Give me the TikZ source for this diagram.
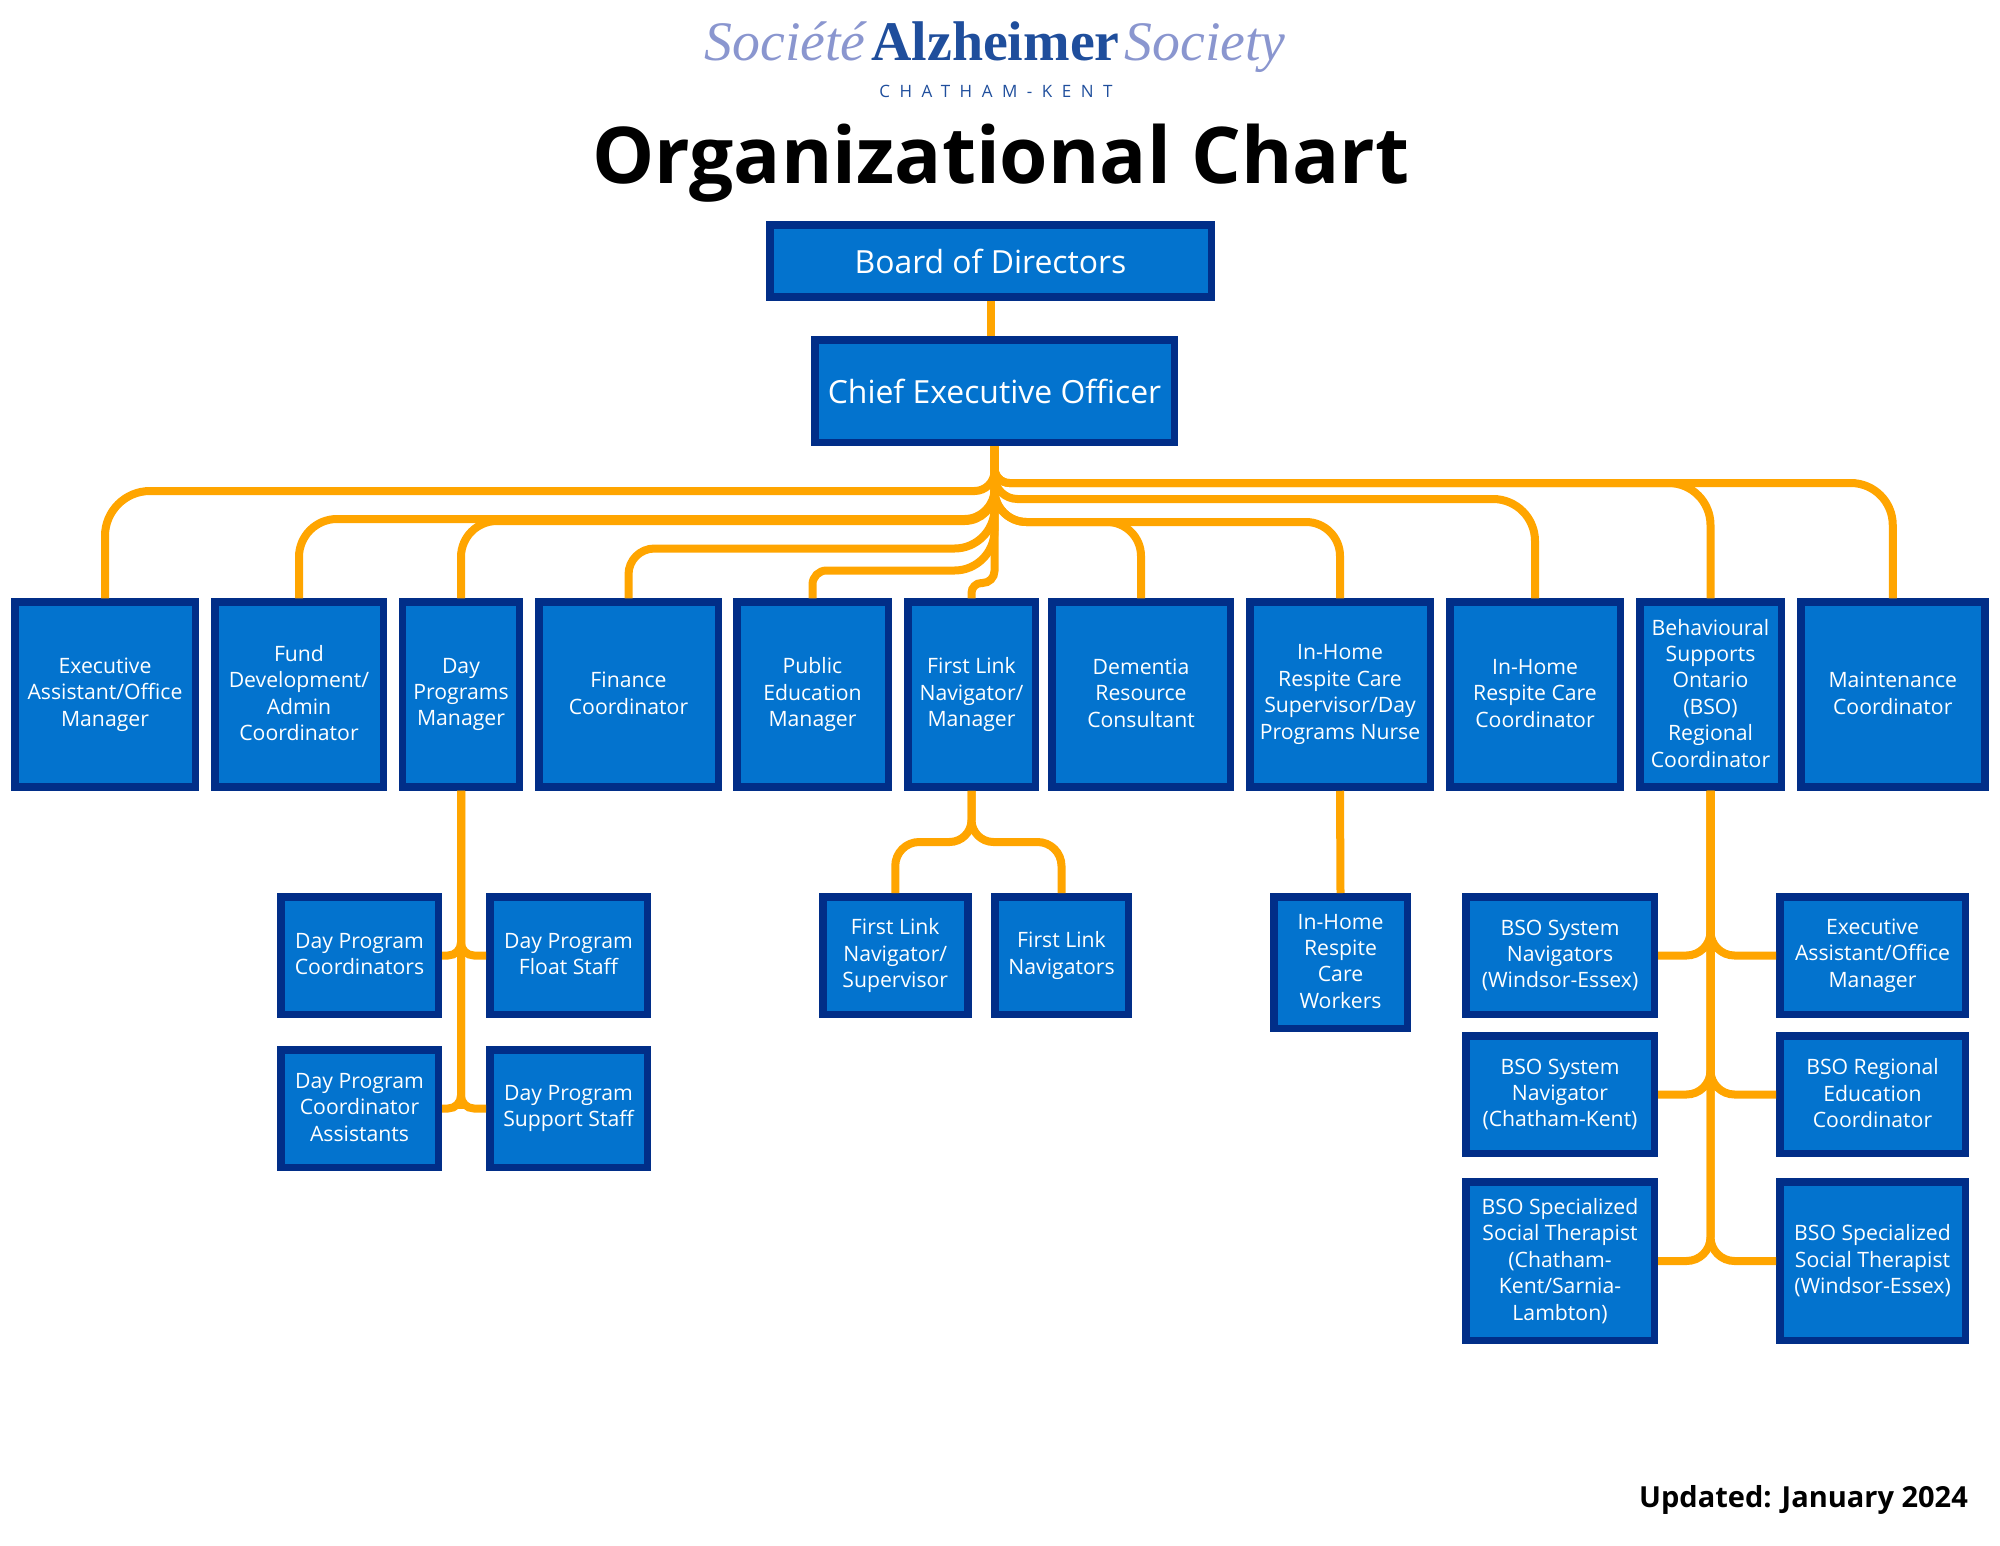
\documentclass[tikz,border=0pt]{standalone}
\usepackage{fontspec}
\setmainfont{Open Sans}
\newfontfamily\logoserif{Liberation Serif}
\newfontfamily\logospaced[LetterSpace=56]{Open Sans}
\definecolor{boxfill}{HTML}{0373CE}
\definecolor{boxline}{HTML}{012E88}
\definecolor{linkorange}{HTML}{FFA500}
\definecolor{logoblue}{HTML}{1F4E9C}
\definecolor{logolight}{HTML}{8A96CF}
\tikzset{
  orgbox/.style 2 args={draw=boxline,fill=boxfill,line width=7.5pt,text=white,align=center,inner sep=0pt,
    minimum width=#1pt,minimum height=#2pt,font=\fontsize{21.2}{26.4}\selectfont,
    execute at end node={\rule[-2.8pt]{0pt}{0pt}}},
  bigbox/.style={font=\fontsize{31.9}{40}\selectfont,
    execute at begin node={\rule{0pt}{.9\baselineskip}},execute at end node=\strut},
  link/.style={draw=linkorange,line width=8pt}
}
\begin{document}
\begin{tikzpicture}[x=1pt,y=-1pt]
    \useasboundingbox (0,0) rectangle (2000,1545);
    %% logo and title
    \node[text=logolight,anchor=base,inner sep=0pt] (logoleft) at (785,60) {\logoserif\itshape\fontsize{55.8}{56}\selectfont Société};
    \node[text=logoblue,anchor=base,inner sep=0pt] (logomid) at (995.5,60) {\logoserif\bfseries\fontsize{55.9}{56}\selectfont Alzheimer};
    \node[text=logolight,anchor=base,inner sep=0pt] (logoright) at (1205,60) {\logoserif\itshape\fontsize{55.8}{56}\selectfont Society};
    \node[text=logoblue,anchor=base,inner sep=0pt] (logosub) at (996,97) {\logospaced\fontsize{17}{17}\selectfont CHATHAM-KENT};
    \node[anchor=base,inner sep=0pt] (title) at (1001,183) {\fontsize{78.3}{80}\selectfont\bfseries Organizational Chart};
    \node[anchor=base east,inner sep=0pt] (updated) at (1968,1507) {\fontsize{29}{29}\selectfont\bfseries Updated: January 2024};
    %% top of the chart
    \node[orgbox={441.5}{72},bigbox] (board) at (990.5,261) {Board of Directors};
    \node[orgbox={359.5}{102.5},bigbox] (ceo) at (994.5,391) {Chief Executive Officer};
    %% first row
    \node[orgbox={180.5}{185}] (execasst) at (105,694.5) {Executive\\Assistant/Office\\Manager};
    \node[orgbox={168.5}{185}] (fund) at (299,694.5) {Fund\\Development/\\Admin\\Coordinator};
    \node[orgbox={117}{185}] (dayprog) at (461,694.5) {Day\\Programs\\Manager};
    \node[orgbox={179.5}{185}] (finance) at (628.5,694.5) {Finance\\Coordinator};
    \node[orgbox={151.5}{185}] (pubedu) at (812.5,694.5) {Public\\Education\\Manager};
    \node[orgbox={127.5}{185}] (flmanager) at (971.5,694.5) {First Link\\Navigator/\\Manager};
    \node[orgbox={178.5}{185}] (dementia) at (1141,694.5) {Dementia\\Resource\\Consultant};
    \node[orgbox={180.5}{185}] (ihsuper) at (1340,694.5) {In-Home\\Respite Care\\Supervisor/Day\\Programs Nurse};
    \node[orgbox={170.5}{185}] (ihcoord) at (1535,694.5) {In-Home\\Respite Care\\Coordinator};
    \node[orgbox={141.5}{185}] (bso) at (1710.5,694.5) {Behavioural\\Supports\\Ontario\\(BSO)\\Regional\\Coordinator};
    \node[orgbox={184}{185}] (maint) at (1892.75,694.5) {Maintenance\\Coordinator};
    %% day programs group
    \node[orgbox={157.5}{117.5}] (dpcoord) at (359.5,955.5) {Day Program\\Coordinators};
    \node[orgbox={157.5}{117.5}] (dpfloat) at (568.5,955.5) {Day Program\\Float Staff};
    \node[orgbox={157.5}{117.5}] (dpasst) at (359.5,1108.5) {Day Program\\Coordinator\\Assistants};
    \node[orgbox={157.5}{117.5}] (dpsupport) at (568.5,1108.5) {Day Program\\Support Staff};
    %% first link group
    \node[orgbox={145}{117.5}] (flsuper) at (895.25,955.5) {First Link\\Navigator/\\Supervisor};
    \node[orgbox={133.5}{117.5}] (flnav) at (1061.5,955.5) {First Link\\Navigators};
    %% respite workers
    \node[orgbox={133.5}{131.5}] (ihworkers) at (1340.5,962.5) {In-Home\\Respite\\Care\\Workers};
    %% bso group
    \node[orgbox={188.5}{117.5}] (bsonavwe) at (1560,955.5) {BSO System\\Navigators\\(Windsor-Essex)};
    \node[orgbox={185.5}{117.5}] (bsoexec) at (1872.5,955.5) {Executive\\Assistant/Office\\Manager};
    \node[orgbox={188.5}{117.5}] (bsonavck) at (1560,1094.5) {BSO System\\Navigator\\(Chatham-Kent)};
    \node[orgbox={185.5}{117.5}] (bsoedu) at (1872.5,1094.5) {BSO Regional\\Education\\Coordinator};
    \node[orgbox={188.5}{158.5}] (bsosocck) at (1560,1261) {BSO Specialized\\Social Therapist\\(Chatham-\\Kent/Sarnia-\\Lambton)};
    \node[orgbox={185.5}{158.5}] (bsosocwe) at (1872.5,1261) {BSO Specialized\\Social Therapist\\(Windsor-Essex)};
    %% connectors from the top
    \draw[link] (board.south) -- (board.south |- ceo.north);
    \draw[link] (execasst.north) [rounded corners=45pt] -- (execasst.north |- 0,491) [rounded corners=20pt] -- (ceo.south |- 0,491) -- (ceo.south);
    \draw[link] (fund.north) [rounded corners=38pt] -- (fund.north |- 0,519) [rounded corners=30pt] -- (ceo.south |- 0,519) -- (ceo.south);
    \draw[link] (dayprog.north) [rounded corners=36pt] -- (dayprog.north |- 0,521) [rounded corners=30pt] -- (ceo.south |- 0,521) -- (ceo.south);
    \draw[link] (finance.north) [rounded corners=26pt] -- (finance.north |- 0,548.5) [rounded corners=40pt] -- (ceo.south |- 0,548.5) -- (ceo.south);
    \draw[link] (pubedu.north) [rounded corners=14pt] -- (pubedu.north |- 0,570.5) [rounded corners=40pt] -- (ceo.south |- 0,570.5) -- (ceo.south);
    \draw[link] (flmanager.north) [rounded corners=10pt] -- (flmanager.north |- 0,583) [rounded corners=12pt] -- (ceo.south |- 0,583) -- (ceo.south);
    \draw[link] (dementia.north) [rounded corners=34pt] -- (dementia.north |- 0,522) [rounded corners=32pt] -- (ceo.south |- 0,522) -- (ceo.south);
    \draw[link] (ihsuper.north) [rounded corners=34pt] -- (ihsuper.north |- 0,522) [rounded corners=32pt] -- (ceo.south |- 0,522) -- (ceo.south);
    \draw[link] (ihcoord.north) [rounded corners=42pt] -- (ihcoord.north |- 0,499) [rounded corners=23pt] -- (ceo.south |- 0,499) -- (ceo.south);
    \draw[link] (bso.north) [rounded corners=42pt] -- (bso.north |- 0,483) [rounded corners=15pt] -- (ceo.south |- 0,483) -- (ceo.south);
    \draw[link] (maint.north) [rounded corners=42pt] -- (maint.north |- 0,483) [rounded corners=15pt] -- (ceo.south |- 0,483) -- (ceo.south);
    %% connectors below the first row
    \draw[link] (dayprog.south) -- (dayprog.south |- dpsupport.west);
    \draw[link,rounded corners=13pt] (dpcoord.east) -- (dayprog.south |- dpcoord.east) -- (dayprog.south);
    \draw[link,rounded corners=13pt] (dpfloat.west) -- (dayprog.south |- dpfloat.west) -- (dayprog.south);
    \draw[link,rounded corners=13pt] (dpasst.east) -- (dayprog.south |- dpasst.east) -- (dayprog.south);
    \draw[link,rounded corners=13pt] (dpsupport.west) -- (dayprog.south |- dpsupport.west) -- (dayprog.south);
    \draw[link] (flsuper.north) [rounded corners=24pt] -- (flsuper.north |- 0,842) [rounded corners=22pt] -- (flmanager.south |- 0,842) -- (flmanager.south);
    \draw[link] (flnav.north) [rounded corners=24pt] -- (flnav.north |- 0,842) [rounded corners=22pt] -- (flmanager.south |- 0,842) -- (flmanager.south);
    \draw[link] (ihsuper.south) -- (ihworkers.north);
    \draw[link,rounded corners=24pt] (bsonavwe.east) -- (bso.south |- bsonavwe.east) -- (bso.south);
    \draw[link,rounded corners=24pt] (bsoexec.west) -- (bso.south |- bsoexec.west) -- (bso.south);
    \draw[link,rounded corners=24pt] (bsonavck.east) -- (bso.south |- bsonavck.east) -- (bso.south);
    \draw[link,rounded corners=24pt] (bsoedu.west) -- (bso.south |- bsoedu.west) -- (bso.south);
    \draw[link,rounded corners=24pt] (bsosocck.east) -- (bso.south |- bsosocck.east) -- (bso.south);
    \draw[link,rounded corners=24pt] (bsosocwe.west) -- (bso.south |- bsosocwe.west) -- (bso.south);
\end{tikzpicture}
\end{document}
